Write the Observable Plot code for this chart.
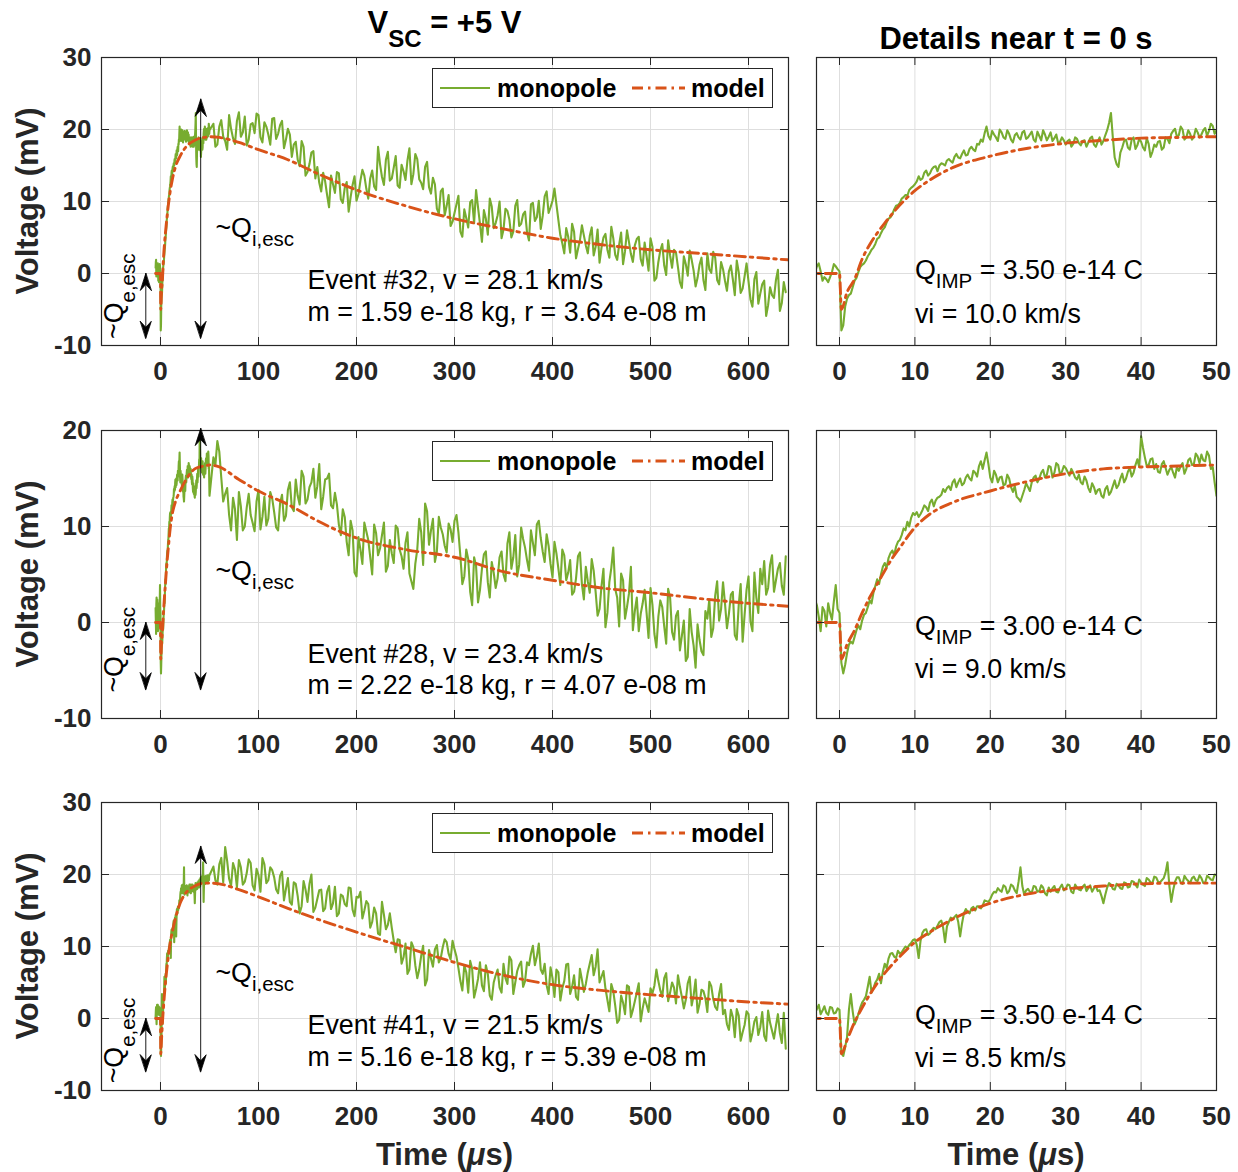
<!DOCTYPE html>
<html>
<head>
<meta charset="utf-8">
<script src="https://cdn.jsdelivr.net/npm/d3@7"></script>
<script src="https://cdn.jsdelivr.net/npm/@observablehq/plot@0.6"></script>
<style>
  body { margin: 0; background: #fff; }
  #wrap { position: relative; width: 1238px; height: 1172px; overflow: hidden; background: #fff;
          font-family: "Liberation Sans", Arial, Helvetica, sans-serif; color: #000; }
  .abs { position: absolute; }
  .title { font-weight: bold; font-size: 31px; line-height: 30px; text-align: center; white-space: nowrap; color: #000; }
  .ylab { font-weight: bold; font-size: 31px; line-height: 30px; white-space: nowrap; color: #262626;
          transform: translate(-50%, -50%) rotate(-90deg); }
  .xlab { font-weight: bold; font-size: 31px; line-height: 30px; text-align: center; white-space: nowrap; color: #262626; }
  .legend { position: absolute; box-sizing: border-box; border: 1.5px solid #262626; background: #fff; }
</style>
</head>
<body>
<div id="wrap"></div>
<script>
// ---------- sampling grid of the recorded traces ----------
const detailStart = -5, detailStep = 0.5;      // fine samples, -5 .. 50 µs
const detailMidStart = -4.75;                  // interleaved fine samples, -4.75 .. 49.75 µs
const coarseStart = 54, coarseStep = 4;        // coarse samples, 54 .. 638 µs
const coarseMidStart = 56;                     // interleaved coarse samples, 56 .. 636 µs

// ---------- Event #32 (row 1) ----------
const event32Detail = [
  0.8, 1.9, 0.2, 1.4, 1.0, 0.3, -0.5, -1.2, 0.2, 1.0,
  0.3, -7.2, -3.5, -2.8, -1.0, 0.2, 1.2, 1.8, 2.8, 3.6,
  4.8, 5.6, 6.4, 7.6, 8.2, 9.4, 9.8, 10.6, 10.8, 11.9,
  12.4, 13.5, 13.2, 14.3, 13.9, 14.8, 14.2, 15.3, 15.0, 15.9,
  15.4, 16.6, 16.0, 17.1, 16.5, 17.6, 17.0, 17.9, 18.3, 20.4,
  18.6, 19.3, 18.4, 19.6, 18.7, 19.4, 18.2, 19.5, 18.6, 19.8,
  18.9, 19.7, 18.3, 19.1, 19.9, 18.5, 19.6, 18.8, 18.1, 18.9,
  17.9, 18.6, 18.0, 18.7, 17.8, 18.5, 18.2, 19.0, 17.6, 18.9,
  18.4, 19.9, 22.3, 16.1, 14.8, 17.5, 18.6, 17.2, 18.9, 17.8,
  18.3, 17.1, 18.0, 16.9, 17.6, 18.4, 17.5, 18.7, 19.4, 20.1,
  19.2, 20.0, 18.9, 19.4, 19.0, 19.6, 19.3, 20.2, 19.8, 20.5,
  19.9
];
const event32DetailMid = [
  1.6, -0.4, 0.9, 0.1, 1.4, -1.0, -0.8, -0.5, 1.3, 0.6,
  -7.9, -4.6, -3.0, -1.9, -0.6, 0.9, 1.4, 2.4, 3.3, 4.1,
  5.0, 6.1, 7.1, 7.8, 8.9, 9.5, 10.4, 10.9, 11.6, 12.1,
  12.8, 13.0, 14.0, 13.6, 14.5, 14.9, 15.0, 15.2, 15.7, 15.6,
  16.2, 16.1, 16.6, 16.4, 17.3, 17.2, 18.0, 18.6, 19.5, 19.1,
  19.8, 18.9, 20.0, 18.9, 19.9, 18.6, 19.2, 18.9, 19.6, 18.7,
  19.3, 18.6, 19.7, 18.5, 19.3, 19.0, 18.4, 19.3, 18.3, 18.5,
  18.4, 17.6, 18.9, 18.1, 18.4, 17.6, 18.8, 17.9, 18.3, 17.9,
  19.2, 20.9, 18.9, 15.2, 16.8, 18.4, 17.5, 18.6, 17.3, 18.7,
  17.5, 18.8, 16.2, 17.9, 18.3, 17.2, 18.9, 18.1, 19.8, 19.0,
  20.4, 18.6, 19.9, 18.6, 20.1, 18.9, 19.9, 19.1, 20.8, 19.4
];
const event32Coarse = [
  20.8, 17.9, 21.3, 18.4, 22.0, 18.8, 21.2, 19.0, 21.8, 18.6,
  20.9, 22.2, 18.9, 21.0, 19.3, 21.5, 18.7, 20.6, 17.4, 20.1,
  16.2, 18.3, 14.9, 17.6, 14.1, 16.8, 13.2, 12.6, 14.0, 10.9,
  13.6, 11.2, 13.9, 9.8, 12.7, 10.6, 13.5, 11.0, 14.4, 11.8,
  13.2, 12.1, 17.6, 13.4, 15.8, 12.9, 14.7, 12.2, 15.1, 13.0,
  17.4, 13.8, 15.9, 12.6, 14.8, 12.0, 13.3, 9.0, 11.4, 8.1,
  10.9, 7.2, 9.6, 5.8, 8.9, 6.4, 10.2, 11.6, 6.9, 8.8,
  5.4, 9.3, 7.0, 10.0, 6.1, 8.7, 5.0, 9.4, 6.6, 8.2,
  5.7, 9.6, 7.3, 10.1, 8.0, 11.4, 9.2, 11.8, 7.4, 4.2,
  6.3, 2.9, 5.8, 3.4, 6.7, 3.9, 5.2, 2.5, 6.1, 3.6,
  5.5, 2.2, 4.9, 1.9, 5.7, 3.1, 4.4, 1.6, 4.8, 2.0,
  4.3, 0.4, 3.7, -0.6, 3.2, 1.1, 4.6, 0.8, 2.9, -1.2,
  2.4, -0.3, 1.9, -1.8, 1.2, -0.9, 2.8, 0.1, 2.2, -1.5,
  0.6, -2.4, 1.1, -3.0, 0.2, -2.1, 1.4, -3.6, -0.8, -4.2,
  -1.5, -5.9, -1.9, -3.4, 0.5, -4.1, -2.6
];
const event32CoarseMid = [
  17.6, 20.4, 19.0, 17.2, 20.1,
  18.0, 22.4, 19.6, 17.8, 20.7, 19.5, 22.0, 18.2, 20.4, 17.9, 21.6, 19.4,
  21.2, 18.6, 19.3,
  17.9, 15.8, 18.4, 13.6, 15.2, 17.0, 14.8,
  11.4, 12.8, 9.2, 12.4, 14.1, 10.3, 11.9, 8.6, 12.3, 10.1, 12.9, 13.6, 10.4, 14.3,
  11.6, 15.2, 12.3, 16.9, 13.2, 16.3, 11.9, 14.2, 15.7, 12.4, 16.6, 13.1, 11.7, 15.5, 11.1,
  12.4, 8.3, 11.8, 9.4, 6.6,
  8.4, 10.8, 5.1, 7.7, 9.9, 7.0,
  9.2, 4.4, 7.6, 10.4, 6.3, 8.1, 4.9, 9.0, 7.5, 5.8, 10.2, 6.9, 8.6, 4.6, 9.8, 7.8, 6.2, 10.7, 8.4, 10.1,
  9.6, 5.3, 2.8,
  5.1, 6.9, 2.1, 4.6, 5.3, 2.8, 6.4, 3.7, 1.5, 5.0, 3.3, 6.5, 2.6, 4.0, 1.3, 6.0, 2.7, 3.9, 5.1,
  1.1, 2.4, 4.9, -1.0, 1.6, 4.1, -0.2, 2.5, 3.3, 0.9,
  -2.0, 1.3, 3.2, 0.4, -0.6, 2.2, -2.3, 0.6, 3.0, -0.9, 1.6,
  -1.0, 0.3, -0.8, 1.8, -2.7, -0.4, -1.1, -4.6, 0.2, -2.8, -1.0, -4.4, -3.0, -0.9, -5.2, -1.2
];

// ---------- Event #28 (row 2) ----------
const event28Detail = [
  1.5, -1.2, 2.6, 0.4, 1.8, -0.9, 1.2, 2.0, 0.3, 3.9,
  1.0, -5.3, -3.2, -2.0, -1.5, -0.3, 0.2, 1.0, 2.3, 3.1,
  4.5, 5.0, 6.2, 6.7, 7.5, 7.9, 8.6, 9.8, 10.5, 10.9,
  11.2, 11.0, 11.7, 12.0, 12.5, 12.1, 13.0, 13.3, 13.6, 14.2,
  14.6, 14.1, 15.0, 14.5, 15.4, 14.8, 15.6, 16.3, 16.0, 17.7,
  15.1, 15.8, 14.6, 15.2, 14.4, 15.0, 13.6, 13.1, 12.6, 13.8,
  14.1, 14.6, 15.3, 15.0, 15.9, 15.4, 16.2, 15.6, 16.4, 15.7,
  16.1, 15.3, 15.6, 14.9, 14.6, 15.2, 14.0, 14.5, 13.4, 13.9,
  13.0, 14.2, 13.6, 14.8, 14.3, 15.5, 15.0, 16.1, 15.6, 17.0,
  19.4, 17.2, 16.4, 17.1, 16.5, 15.6, 16.8, 15.4, 16.2, 15.1,
  15.8, 16.6, 16.0, 17.1, 16.5, 17.3, 17.5, 16.8, 17.4, 16.2,
  13.2
];
const event28DetailMid = [
  0.2, 1.9, -0.6, 2.4, 0.6, 1.6, -0.4, 1.0, 2.2, 1.4,
  -4.2, -4.4, -2.3, -2.2, -0.8, -0.7, 0.8, 1.6, 2.0, 3.8,
  4.0, 5.8, 5.7, 7.2, 7.0, 8.4, 9.1, 9.6, 10.0, 11.4,
  11.5, 11.3, 12.2, 11.6, 12.8, 12.7, 13.1, 13.9, 14.0, 13.8,
  14.9, 14.6, 14.3, 15.1, 15.0, 15.8, 15.2, 16.8, 16.9, 16.5,
  14.6, 15.4, 15.1, 14.3, 15.4, 14.1, 14.2, 12.9, 13.2, 14.5,
  13.7, 15.1, 14.6, 15.6, 15.1, 16.3, 15.1, 16.6, 15.4, 16.3,
  15.7, 16.0, 15.1, 15.4, 14.4, 14.8, 13.6, 14.1, 13.8, 13.2,
  13.9, 13.3, 14.2, 14.0, 15.0, 14.6, 15.7, 15.2, 16.4, 16.2,
  18.2, 16.3, 17.0, 16.0, 15.7, 16.5, 16.1, 15.9, 15.6, 16.2,
  16.3, 15.5, 16.9, 16.4, 17.6, 16.6, 16.9, 17.8, 16.0, 14.6
];
const event28Coarse = [
  17.2, 18.9, 15.1, 13.4, 11.2, 13.0, 8.6, 12.1, 10.0, 13.4,
  10.4, 12.6, 9.7, 13.1, 10.8, 12.9, 9.9, 12.4, 10.6, 13.8,
  12.0, 14.9, 12.3, 15.2, 12.8, 14.6, 13.0, 16.5, 13.1, 15.0,
  12.2, 13.5, 10.2, 11.8, 8.4, 10.6, 5.2, 8.9, 6.1, 9.5,
  6.8, 10.2, 7.0, 9.1, 5.3, 8.6, 6.2, 9.8, 6.9, 8.3,
  5.1, 3.5, 7.6, 9.4, 12.4, 8.1, 10.8, 7.4, 9.9, 8.0,
  10.3, 8.4, 11.2, 6.9, 4.8, 6.6, 1.8, 5.9, 3.4, 7.1,
  4.2, 6.3, 3.6, 6.8, 5.0, 8.2, 5.6, 9.1, 6.0, 8.7,
  6.5, 9.6, 7.0, 10.6, 7.4, 9.2, 6.1, 8.4, 5.6, 7.6,
  4.4, 6.5, 3.2, 6.9, 4.0, 5.8, 3.1, 5.4, 0.7, 3.8,
  -0.5, 4.2, 7.8, 2.6, 5.1, 0.4, 3.0, -0.8, 2.6, 0.9,
  3.4, -1.6, 1.8, -2.6, 2.3, -0.4, 3.5, -1.0, 0.7, -2.9,
  0.2, -3.6, -1.0, -4.7, -1.8, -3.4, 0.4, -1.5, 2.8, 0.2,
  4.2, -0.6, 2.9, -1.3, 1.8, -2.0, 3.4, 0.1, 5.2, 1.0,
  4.0, 2.9, 6.0, 3.2, 5.6, 3.8, 6.9
];
const event28CoarseMid = [
  16.4, 17.8,
  12.6, 14.0, 9.6, 11.8, 13.6,
  9.6, 12.0, 11.2, 9.5, 13.8, 11.0, 10.1, 13.6, 11.5, 9.6, 13.3, 11.1,
  14.6, 11.6, 13.2, 15.8, 12.4, 14.1, 16.0, 14.2, 11.8, 14.9, 15.5, 11.9,
  12.3, 9.1, 11.0, 7.0, 9.6, 4.8, 7.6, 10.4,
  8.6, 5.0, 9.3, 7.7, 10.4, 5.9, 7.2, 10.1, 7.6, 5.6, 9.4, 4.3, 6.1,
  10.8, 6.0, 11.6, 9.6, 6.3, 11.0, 9.2, 7.3, 9.7, 10.6, 9.4,
  4.0, 7.6, 3.2, 6.8, 2.1, 5.6, 7.4, 2.6, 5.2, 4.6,
  7.4, 4.3, 9.4, 6.8, 4.8, 9.9, 7.8, 5.4, 8.3, 10.2, 8.8, 6.3, 8.0,
  4.7, 7.2, 3.9, 7.0, 5.2, 2.9, 4.6, 7.3, 2.4, 4.3, 6.6,
  3.2, 1.4, 5.6, 1.0, 5.7, 3.5, -0.4, 4.4, 1.6, 5.8, 1.2, -0.9,
  2.0, 1.0, 3.6, -1.2, 0.6, 1.6, -2.2, 2.6, -1.8,
  1.2, -1.4, -4.0, 1.4, -2.4, -0.2, -3.0, 1.2,
  2.4, -0.6, 4.3, 1.4, 2.0, 0.9, 3.2,
  -1.8, 4.0, 0.8, 4.8, -0.9, 2.6, 5.6,
  6.4, 3.6, 7.0, 4.4, 6.2, 2.9
];

// ---------- Event #41 (row 3) ----------
const event41Detail = [
  0.2, 1.6, -0.8, 1.9, 1.3, 0.6, 1.7, 0.5, 1.5, 0.8,
  1.2, -5.2, -2.6, 3.4, -0.8, 0.6, 2.2, 3.1, 5.8, 4.2,
  5.4, 4.9, 7.6, 8.3, 9.1, 8.4, 9.0, 9.6, 9.8, 10.5,
  11.0, 8.4, 11.9, 12.4, 11.8, 12.6, 12.9, 13.6, 10.6, 13.4,
  13.8, 14.4, 11.4, 14.6, 14.8, 15.3, 15.0, 15.6, 15.7, 16.3,
  16.6, 17.6, 18.1, 17.6, 18.3, 17.7, 18.4, 17.4, 21.0, 17.2,
  18.0, 17.5, 18.3, 17.7, 18.2, 17.1, 17.6, 18.4, 17.5, 18.6,
  18.0, 18.5, 17.4, 18.2, 17.8, 18.6, 18.1, 17.6, 18.4, 17.8,
  16.0, 18.2, 18.6, 17.9, 18.5, 18.0, 18.8, 18.3, 19.0, 18.2,
  18.9, 18.4, 19.3, 18.8, 19.6, 18.9, 19.5, 21.7, 16.2, 19.0,
  19.6, 18.7, 19.4, 18.8, 19.7, 19.1, 19.5, 18.9, 19.6, 19.2,
  19.9
];
const event41DetailMid = [
  1.1, 0.3, 0.9, 0.8, 1.9, 1.1, 0.8, 1.6, 0.7, 1.4,
  -4.8, -4.0, 1.2, 1.0, -0.2, 1.5, 2.6, 4.4, 3.6, 5.0,
  6.2, 6.5, 7.0, 9.0, 8.6, 9.4, 9.2, 10.0, 10.2, 10.9,
  10.2, 10.8, 12.3, 11.6, 12.3, 12.4, 13.4, 12.6, 12.8, 14.0,
  14.1, 13.4, 13.2, 15.2, 14.6, 15.5, 15.6, 15.3, 16.4, 16.2,
  17.2, 17.5, 17.8, 18.5, 17.4, 18.6, 17.8, 19.0, 18.4, 17.8,
  17.6, 18.4, 17.6, 18.5, 17.4, 18.2, 18.1, 17.6, 18.2, 17.8,
  18.6, 17.6, 18.6, 17.9, 18.3, 17.7, 18.5, 18.1, 17.7, 17.0,
  17.2, 18.8, 18.0, 18.7, 18.1, 18.9, 18.2, 19.1, 18.6, 19.3,
  18.6, 19.5, 18.9, 19.7, 19.0, 19.2, 20.3, 18.4, 17.8, 19.6,
  18.9, 19.8, 19.1, 19.5, 19.2, 19.9, 18.8, 19.8, 19.3, 20.0
];
const event41Coarse = [
  21.1, 18.6, 22.3, 23.8, 19.4, 21.6, 18.2, 21.0, 19.0, 22.1,
  18.5, 20.8, 17.6, 21.4, 19.2, 20.6, 17.9, 19.8, 16.4, 19.5,
  15.8, 18.7, 14.6, 19.1, 16.2, 20.0, 15.4, 17.8, 14.9, 17.6,
  15.2, 18.3, 14.6, 17.0, 15.6, 18.1, 14.2, 16.8, 13.9, 16.3,
  12.6, 15.4, 11.8, 16.2, 12.4, 14.6, 10.8, 11.0, 7.6, 10.4,
  6.8, 9.9, 5.6, 8.7, 4.6, 9.5, 7.2, 10.2, 8.4, 11.0,
  9.0, 10.8, 8.6, 5.2, 7.4, 3.6, 6.9, 4.1, 7.8, 3.8,
  6.2, 2.6, 6.0, 4.3, 7.6, 4.8, 8.1, 5.0, 7.4, 4.4,
  7.8, 9.0, 7.4, 10.4, 6.2, 4.6, 7.1, 3.0, 6.4, 4.2,
  7.5, 3.4, 6.0, 2.6, 5.4, 4.8, 7.6, 6.0, 9.6, 5.8,
  4.2, 1.0, 3.8, -0.6, 3.2, 0.6, 4.4, 1.2, 3.6, -0.4,
  2.8, 0.9, 3.5, 6.8, 3.9, 5.6, 2.4, 5.0, 2.1, 4.4,
  1.4, 4.9, 1.8, 5.4, 2.0, 3.8, 0.9, 4.5, 1.6, 3.4,
  0.6, -0.8, 1.2, -2.6, 0.4, -1.9, 1.0, -3.2, -0.4, -2.3,
  0.9, -3.1, -0.6, -2.8, 0.6, -3.4, -4.2
];
const event41CoarseMid = [
  19.2, 21.4, 18.9,
  21.9, 18.4, 20.7, 22.0, 18.6, 20.2, 21.6, 17.8, 19.9, 22.3, 18.8, 21.0, 19.6,
  17.4, 20.4, 18.0, 16.2, 18.9, 17.0, 15.6, 17.9, 18.7, 14.8, 16.6,
  17.9, 15.3, 18.4, 16.0, 14.2, 17.2, 15.9, 18.2, 15.1, 16.9, 17.6, 15.0,
  15.9, 13.4, 14.6, 11.6, 14.4, 13.0, 12.6,
  9.2, 10.9, 8.5, 6.2, 10.6, 7.4, 6.8, 10.1, 5.4, 8.3,
  9.6, 7.8, 9.9, 10.6, 8.2, 9.6,
  7.0, 3.9, 6.4, 8.0, 2.9, 5.5, 4.6, 7.4, 3.2, 5.0,
  6.8, 3.6, 5.6, 8.6, 3.4, 6.6, 7.9, 5.2,
  7.4, 10.1, 8.6, 6.8,
  7.6, 3.4, 5.6, 6.8, 2.5, 5.2, 7.6, 4.4, 3.0, 6.9, 3.7,
  6.4, 8.8, 7.2, 5.0, 6.6,
  2.6, 4.8, 1.8, -0.2, 2.2, 4.6, 0.2, 2.4, 4.9, 1.4, 1.9, 4.2,
  4.6, 5.2, 3.0, 6.3, 3.6, 4.3, 6.0,
  3.0, 2.6, 5.8, 3.2, 0.8, 4.0, 2.8, 5.1, 2.7, 1.2, 4.8,
  1.2, -1.6, 0.2, 1.3, -3.1, -0.9, 0.6, -2.0, 0.2, -1.2, -2.4, 1.1, -1.7,
  -1.0, -2.0, 0.8
];

// ---------- model curves ----------
const modelTimes = [-5, 0, 0.25, 1, 2, 3, 4, 5, 6, 7, 8, 10, 12, 15, 20, 25, 30, 35, 40, 45, 50,
                    60, 80, 100, 130, 160, 200, 250, 300, 350, 400, 450, 500, 550, 600, 640];
const model32 = [0, 0, -5.0, -2.6, -0.8, 2.0, 4.0, 5.6, 7.0, 8.3, 9.5, 11.5, 13.0, 14.7, 16.3, 17.4, 18.1, 18.5, 18.8, 18.9, 19.0,
                 18.9, 18.2, 17.2, 15.8, 13.9, 11.6, 9.4, 7.6, 6.2, 4.9, 4.0, 3.3, 2.8, 2.3, 1.9];
const model28 = [0, 0, -3.8, -2.3, -0.8, 1.0, 2.6, 4.0, 5.4, 6.7, 7.8, 9.9, 11.3, 12.5, 13.7, 14.7, 15.5, 16.0, 16.2, 16.3, 16.4,
                 16.2, 14.9, 13.7, 12.3, 10.6, 8.8, 7.6, 6.8, 5.3, 4.4, 3.6, 3.1, 2.5, 2.0, 1.7];
const model41 = [0, 0, -4.9, -3.0, -0.5, 1.5, 3.3, 4.9, 6.3, 7.5, 8.6, 10.6, 12.0, 13.8, 16.0, 17.3, 18.0, 18.4, 18.7, 18.8, 18.8,
                 18.7, 17.9, 16.9, 15.3, 13.8, 12.0, 9.9, 7.8, 6.0, 4.7, 3.9, 3.3, 2.8, 2.3, 2.0];

// ---------- ticks and labels ----------
const timeTicksFull = [0, 100, 200, 300, 400, 500, 600];
const timeTicksZoom = [0, 10, 20, 30, 40, 50];
const voltTicksWide = [-10, 0, 10, 20, 30];
const voltTicksNarrow = [-10, 0, 10, 20];
const eventLines = ["Event #32, v = 28.1 km/s", "Event #28, v = 23.4 km/s", "Event #41, v = 21.5 km/s"];
const massLines = ["m = 1.59 e-18 kg, r = 3.64 e-08 m", "m = 2.22 e-18 kg, r = 4.07 e-08 m", "m = 5.16 e-18 kg, r = 5.39 e-08 m"];
const chargeLines = ["Q_{IMP} = 3.50 e-14 C", "Q_{IMP} = 3.00 e-14 C", "Q_{IMP} = 3.50 e-14 C"];
const speedLines = ["vi = 10.0 km/s", "vi = 9.0 km/s", "vi = 8.5 km/s"];
const seriesNames = ["monopole", "model"];

// ---------- styling ----------
const GREEN = "#77AC30", ORANGE = "#D95319", INK = "#262626", GRID = "#dedede";
const FONT = '"Liberation Sans", Arial, Helvetica, sans-serif';
const DASH = "11,5,2.5,5";
const FRAME_TOPS = [57, 430, 802];
const FH = 288, MT = 20, MB = 60;
const ANN_SIZE = 26.8;

function toSeries(detail, detailMid, coarse, coarseMid) {
  return [
    ...detail.map((v, i) => ({t: detailStart + i * detailStep, v})),
    ...detailMid.map((v, i) => ({t: detailMidStart + i * detailStep, v})),
    ...coarse.map((v, i) => ({t: coarseStart + i * coarseStep, v})),
    ...coarseMid.map((v, i) => ({t: coarseMidStart + i * coarseStep, v}))
  ].sort((a, b) => a.t - b.t);
}
function toModel(values) {
  return values.map((v, i) => ({t: modelTimes[i], v}));
}

const rows = [
  {mono: toSeries(event32Detail, event32DetailMid, event32Coarse, event32CoarseMid), model: toModel(model32), yDomain: [-10, 30], yTicks: voltTicksWide,
   ann: {eventY: -1.0, massY: -5.4, qY: 0.4, viY: -5.7, iY: 6.2, iTop: 24.2, iBot: -9.0, eBot: -9.0, eTextY: -9.1}},
  {mono: toSeries(event28Detail, event28DetailMid, event28Coarse, event28CoarseMid), model: toModel(model28), yDomain: [-10, 20], yTicks: voltTicksNarrow,
   ann: {eventY: -3.3, massY: -6.6, qY: -0.4, viY: -4.9, iY: 5.3, iTop: 20.2, iBot: -7.0, eBot: -7.0, eTextY: -7.3}},
  {mono: toSeries(event41Detail, event41DetailMid, event41Coarse, event41CoarseMid), model: toModel(model41), yDomain: [-10, 30], yTicks: voltTicksWide,
   ann: {eventY: -1.0, massY: -5.4, qY: 0.4, viY: -5.6, iY: 6.2, iTop: 23.9, iBot: -7.4, eBot: -7.4, eTextY: -9.0}}
];

const headShape = {
  draw(context) {
    context.moveTo(0, 0);
    context.lineTo(-5.5, 17);
    context.lineTo(0, 11);
    context.lineTo(5.5, 17);
    context.closePath();
  }
};

function addSubscripts(svg) {
  svg.querySelectorAll("text").forEach((node) => {
    const s = node.textContent;
    if (!s.includes("_{")) return;
    const rotated = (node.getAttribute("transform") || "").includes("rotate");
    const shift = rotated ? 12 : 9;
    while (node.firstChild) node.removeChild(node.firstChild);
    const parts = s.split(/(_\{[^}]*\})/).filter((p) => p);
    let down = false;
    for (const p of parts) {
      const ts = document.createElementNS("http://www.w3.org/2000/svg", "tspan");
      if (p.startsWith("_{")) {
        ts.textContent = p.slice(2, -1);
        ts.setAttribute("font-size", "20.5");
        ts.setAttribute("dy", shift);
        down = true;
      } else {
        ts.textContent = p;
        if (down) { ts.setAttribute("dy", -shift); down = false; }
      }
      node.appendChild(ts);
    }
  });
}

function makePanel(row, r, side) {
  const left = side === "left";
  const xTicks = left ? timeTicksFull : timeTicksZoom;
  const width = left ? 800 : 438;
  const marginLeft = left ? 101 : 16;
  const marginRight = left ? 12 : 22;
  const fw = width - marginLeft - marginRight;
  const a = row.ann;
  const marks = [
    Plot.gridX(xTicks, {stroke: GRID, strokeOpacity: 1, strokeWidth: 1}),
    Plot.gridY(row.yTicks, {stroke: GRID, strokeOpacity: 1, strokeWidth: 1}),
    Plot.line(row.mono, {x: "t", y: "v", stroke: GREEN, strokeWidth: 2.1, clip: true}),
    Plot.line(row.model, {x: "t", y: "v", stroke: ORANGE, strokeWidth: 2.9, strokeDasharray: DASH, curve: "monotone-x", clip: true}),
    Plot.tickX(xTicks, {x: (d) => d, stroke: INK, insetTop: FH - 8}),
    Plot.tickX(xTicks, {x: (d) => d, stroke: INK, insetBottom: FH - 8}),
    Plot.tickY(row.yTicks, {y: (d) => d, stroke: INK, insetRight: fw - 8}),
    Plot.tickY(row.yTicks, {y: (d) => d, stroke: INK, insetLeft: fw - 8}),
    Plot.frame({stroke: INK, strokeWidth: 1.2}),
    Plot.axisX(xTicks, {tickSize: 0, tickPadding: 16, fontSize: 26, fontWeight: "bold", color: INK, label: null, tickFormat: (d) => String(d)})
  ];
  if (left) {
    marks.push(
      Plot.axisY(row.yTicks, {tickSize: 0, tickPadding: 10, fontSize: 26, fontWeight: "bold", color: INK, label: null, tickFormat: (d) => String(d)}),
      Plot.text([{x: 150, y: a.eventY, s: eventLines[r]}, {x: 150, y: a.massY, s: massLines[r]}],
        {x: "x", y: "y", text: "s", textAnchor: "start", fontSize: ANN_SIZE, fill: "#000"}),
      Plot.text([{x: 56, y: a.iY, s: "~Q_{i,esc}"}], {x: "x", y: "y", text: "s", textAnchor: "start", fontSize: ANN_SIZE, fill: "#000"}),
      Plot.text([{x: -47, y: a.eTextY, s: "~Q_{e,esc}"}], {x: "x", y: "y", text: "s", textAnchor: "start", rotate: -90, fontSize: ANN_SIZE, fill: "#000"}),
      Plot.ruleX([{x: 41, y1: a.iBot, y2: a.iTop}, {x: -15, y1: a.eBot, y2: 0}], {x: "x", y1: "y1", y2: "y2", stroke: "#000", strokeWidth: 0.9}),
      Plot.vector([{x: 41, y: a.iTop, r: 0}, {x: 41, y: a.iBot, r: 180}, {x: -15, y: 0, r: 0}, {x: -15, y: a.eBot, r: 180}],
        {x: "x", y: "y", rotate: "r", length: 1, anchor: "start", shape: headShape, fill: "#000", stroke: "#000", strokeWidth: 0.8})
    );
  } else {
    marks.push(
      Plot.text([{x: 10, y: a.qY, s: chargeLines[r]}, {x: 10, y: a.viY, s: speedLines[r]}],
        {x: "x", y: "y", text: "s", textAnchor: "start", fontSize: ANN_SIZE, fill: "#000"})
    );
  }
  const svg = Plot.plot({
    width, height: FH + MT + MB,
    marginTop: MT, marginBottom: MB, marginLeft, marginRight,
    x: {domain: left ? [-60.2, 640.8] : [-3.05, 50], axis: null},
    y: {domain: row.yDomain, axis: null},
    style: {fontFamily: FONT, background: "transparent", overflow: "visible", color: INK},
    marks
  });
  addSubscripts(svg);
  return svg;
}

const wrap = document.getElementById("wrap");
function place(el, x, y) {
  el.style.position = "absolute";
  el.style.left = x + "px";
  el.style.top = y + "px";
  wrap.appendChild(el);
}
function div(cls, html, css) {
  const d = document.createElement("div");
  d.className = cls;
  d.innerHTML = html;
  Object.assign(d.style, css);
  wrap.appendChild(d);
  return d;
}

rows.forEach((row, r) => {
  const ft = FRAME_TOPS[r];
  place(makePanel(row, r, "left"), 0, ft - MT);
  place(makePanel(row, r, "right"), 800, ft - MT);
  div("abs ylab", "Voltage (mV)", {left: "28px", top: (ft + FH / 2) + "px"});
  const lg = div("legend", "", {left: "432px", top: (ft + 11) + "px", width: "341px", height: "40px"});
  lg.innerHTML =
    `<svg width="341" height="40" style="position:absolute;left:-1.5px;top:-1.5px;overflow:visible">
       <line x1="8" x2="58" y1="20" y2="20" stroke="${GREEN}" stroke-width="2.1"/>
       <text x="65" y="29" font-family='${FONT}' font-weight="bold" font-size="25" fill="#000">${seriesNames[0]}</text>
       <line x1="200" x2="253" y1="20" y2="20" stroke="${ORANGE}" stroke-width="2.9" stroke-dasharray="${DASH}"/>
       <text x="259" y="29" font-family='${FONT}' font-weight="bold" font-size="25" fill="#000">${seriesNames[1]}</text>
     </svg>`;
});

div("abs title", 'V<span style="font-size:24px;position:relative;top:14px">SC</span> = +5 V', {left: "101px", width: "687px", top: "8px"});
div("abs title", "Details near t = 0 s", {left: "816px", width: "400px", top: "24px"});
div("abs xlab", 'Time (<span style="font-style:italic">μ</span>s)', {left: "101px", width: "687px", top: "1140px"});
div("abs xlab", 'Time (<span style="font-style:italic">μ</span>s)', {left: "816px", width: "400px", top: "1140px"});
</script>
</body>
</html>
